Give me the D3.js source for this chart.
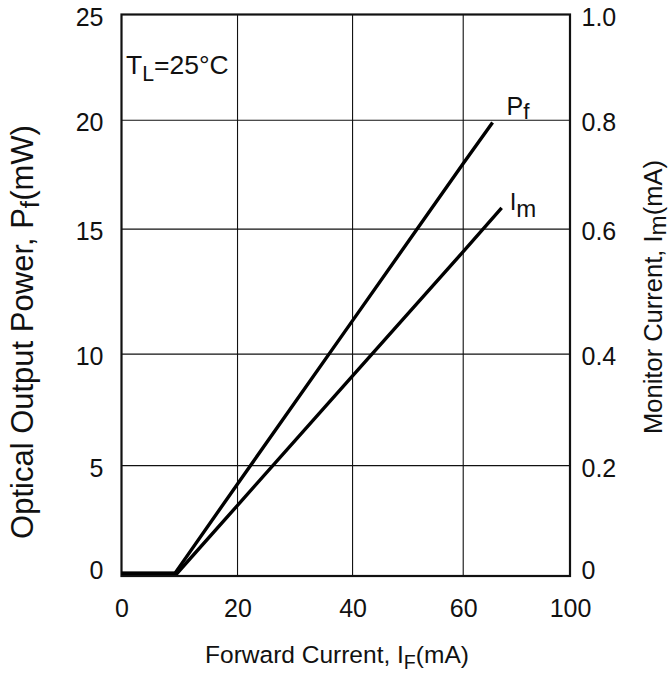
<!DOCTYPE html>
<html>
<head>
<meta charset="utf-8">
<script src="https://cdn.jsdelivr.net/npm/d3@7"></script>
<style>
  html, body { margin: 0; padding: 0; background: #fff; }
  svg { display: block; }
  text { font-family: "Liberation Sans", Arial, Helvetica, sans-serif; fill: #111; }
</style>
</head>
<body>
<svg id="chart" width="671" height="677"></svg>
<script>
// ---------------- data ----------------
const xTickValues = [0, 20, 40, 60, 100];          // forward current axis labels (mA)
const yLeftTickValues = [0, 5, 10, 15, 20, 25];    // optical output power (mW)
const yRightTickValues = [0, 0.2, 0.4, 0.6, 0.8, 1.0]; // monitor current (mA)

const pfCurrent = [0, 9.2, 20, 40, 60, 71.0];        // I_F (mA)
const pfPower   = [0.12, 0.12, 4.17, 11.34, 18.01, 19.9]; // P_f (mW)

const imCurrent = [0, 9.6, 20, 40, 60, 74.4];        // I_F (mA)
const imMonitor = [0.005, 0.005, 0.128, 0.361, 0.564, 0.639]; // I_m (mA)

// ---------------- layout ----------------
const L = { left: 121.5, right: 570, top: 14.5, bottom: 576 };
// scanned axes are slightly non-uniform: break positions as fractions of the plot box
const xBreakFrac = [0, 0.2587, 0.5152, 0.7619, 1];
const yBreakFrac = [0, 0.1966, 0.3951, 0.6178, 0.8117, 1];

const svg = d3.select("#chart");
const W = L.right - L.left, H = L.bottom - L.top;

const x = d3.scaleLinear()
  .domain(xTickValues)
  .range(xBreakFrac.map(f => L.left + f * W));
const yL = d3.scaleLinear()
  .domain(yLeftTickValues)
  .range(yBreakFrac.map(f => L.bottom - f * H));
const yR = d3.scaleLinear()
  .domain(yRightTickValues)
  .range(yBreakFrac.map(f => L.bottom - f * H));

const FS = 25;

// grid lines
const g = svg.append("g");
g.selectAll("line.vg").data(xTickValues.slice(1, -1)).join("line")
  .attr("x1", d => x(d)).attr("x2", d => x(d))
  .attr("y1", L.top).attr("y2", L.bottom)
  .attr("stroke", "#111").attr("stroke-width", 1.1);
g.selectAll("line.hg").data(yLeftTickValues.slice(1, -1)).join("line")
  .attr("y1", d => yL(d)).attr("y2", d => yL(d))
  .attr("x1", L.left).attr("x2", L.right)
  .attr("stroke", "#111").attr("stroke-width", 1.1);

// axes (labels only; frame drawn separately)
const xAxis = d3.axisBottom(x).tickValues(xTickValues).tickSize(0).tickPadding(0)
  .tickFormat(d3.format("d"));
const gx = svg.append("g").attr("transform", `translate(0,${L.bottom})`).call(xAxis);
gx.select(".domain").remove();
gx.selectAll("text").attr("font-size", FS).attr("dy", null).attr("y", 41)
  .attr("font-family", null);

const yAxisL = d3.axisLeft(yL).tickValues(yLeftTickValues).tickSize(0).tickPadding(0)
  .tickFormat(d3.format("d"));
const gyl = svg.append("g").attr("transform", `translate(${L.left},0)`).call(yAxisL);
gyl.select(".domain").remove();
gyl.selectAll("text").attr("font-size", FS).attr("x", -18).attr("font-family", null)
  .attr("dy", d => d === 0 ? "0.08em" : "0.42em");

const yAxisR = d3.axisRight(yR).tickValues(yRightTickValues).tickSize(0).tickPadding(0)
  .tickFormat(d => d === 0 ? "0" : d3.format(".1f")(d));
const gyr = svg.append("g").attr("transform", `translate(${L.right},0)`).call(yAxisR);
gyr.select(".domain").remove();
gyr.selectAll("text").attr("font-size", FS).attr("x", 11.5).attr("font-family", null)
  .attr("dy", d => d === 0 ? "0.08em" : "0.42em");
svg.selectAll(".tick text").style("fill", "#111");

// frame
svg.append("rect")
  .attr("x", L.left).attr("y", L.top).attr("width", W).attr("height", H)
  .attr("fill", "none").attr("stroke", "#111").attr("stroke-width", 2.2);

// data lines
const pfData = pfCurrent.map((c, i) => [c, pfPower[i]]);
const imData = imCurrent.map((c, i) => [c, imMonitor[i]]);
svg.append("path").datum(pfData)
  .attr("d", d3.line().x(d => x(d[0])).y(d => yL(d[1])))
  .attr("fill", "none").attr("stroke", "#000").attr("stroke-width", 3.4)
  .attr("stroke-linejoin", "miter");
svg.append("path").datum(imData)
  .attr("d", d3.line().x(d => x(d[0])).y(d => yR(d[1])))
  .attr("fill", "none").attr("stroke", "#000").attr("stroke-width", 3.4)
  .attr("stroke-linejoin", "miter");

// helper for text with subscript
function subText(sel, main, sub, rest, size, subScale, subDy) {
  sel.append("tspan").text(main);
  sel.append("tspan").attr("font-size", size * subScale).attr("dy", subDy).text(sub);
  if (rest) sel.append("tspan").attr("font-size", size).attr("dy", -subDy).text(rest);
}

// line labels
const pfEnd = pfData[pfData.length - 1];
const imEnd = imData[imData.length - 1];
subText(svg.append("text").attr("font-size", 25)
  .attr("x", x(pfEnd[0]) + 14).attr("y", yL(pfEnd[1]) - 7), "P", "f", null, 25, 0.9, 4);
subText(svg.append("text").attr("font-size", 24)
  .attr("x", x(imEnd[0]) + 8).attr("y", yR(imEnd[1]) + 2), "I", "m", null, 24, 1, 7);

// temperature annotation
subText(svg.append("text").attr("font-size", 26.5)
  .attr("x", L.left + 4.5).attr("y", L.top + 59.5), "T", "L", "=25°C", 26.5, 0.8, 7);

// axis titles
subText(svg.append("text").attr("font-size", 24.5).attr("text-anchor", "middle")
  .attr("x", 337).attr("y", 663),
  "Forward Current, I", "F", "(mA)", 24.5, 0.8, 6);

subText(svg.append("text").attr("font-size", 31).attr("text-anchor", "middle")
  .attr("transform", `translate(33,332) rotate(-90)`),
  "Optical Output Power, P", "f", "(mW)", 31, 0.85, 6);

subText(svg.append("text").attr("font-size", 25.5).attr("text-anchor", "middle")
  .attr("transform", `translate(662,297) rotate(-90)`),
  "Monitor Current, I", "m", "(mA)", 25.5, 0.95, 4);
</script>
</body>
</html>
